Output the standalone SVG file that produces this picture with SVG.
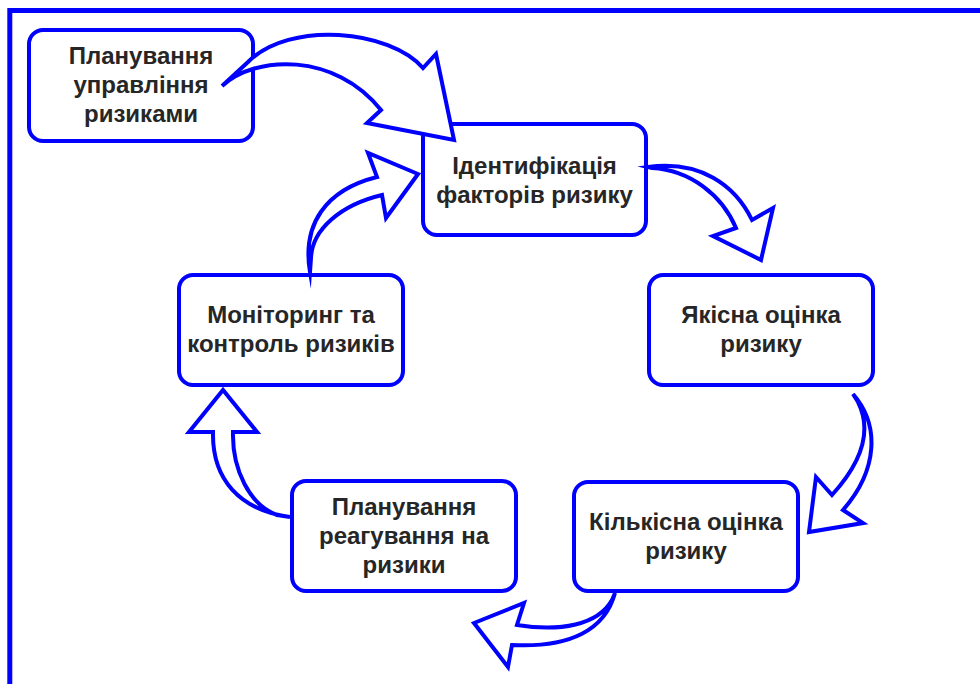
<svg xmlns="http://www.w3.org/2000/svg" width="980" height="684" viewBox="0 0 980 684">
<style>
.box{fill:#fff;stroke:#0000ff;stroke-width:4}
.arr{fill:#fff;stroke:#0000ff;stroke-width:4;stroke-linejoin:miter;stroke-miterlimit:10}
.t{font-family:"Liberation Sans",Arial,sans-serif;font-weight:bold;font-size:24px;fill:#262626;text-anchor:middle}
</style>
<rect width="980" height="684" fill="#fff"/>
<g id="frame" fill="none" stroke="#0000ff" stroke-width="5">
<path d="M980,10.5 H9.8 V684"/>
</g>
<g id="n1">
<rect class="box" x="29" y="30" width="224" height="111" rx="14"/>
<text class="t" x="141" y="64">Планування<tspan x="141" y="93">управління</tspan><tspan x="141" y="122">ризиками</tspan></text>
</g>
<g id="n2">
<rect class="box" x="423" y="124" width="223" height="111" rx="14"/>
<text class="t" x="534.5" y="173.5">Ідентифікація<tspan x="534.5" y="202.5">факторів ризику</tspan></text>
</g>
<g id="n3">
<rect class="box" x="649" y="275" width="224" height="110" rx="14"/>
<text class="t" x="761" y="323">Якісна оцінка<tspan x="761" y="352">ризику</tspan></text>
</g>
<g id="n4">
<rect class="box" x="574" y="482" width="224" height="109" rx="14"/>
<text class="t" x="686" y="530">Кількісна оцінка<tspan x="686" y="559">ризику</tspan></text>
</g>
<g id="n5">
<rect class="box" x="292" y="481" width="224" height="110" rx="14"/>
<text class="t" x="404" y="515">Планування<tspan x="404" y="544">реагування на</tspan><tspan x="404" y="573">ризики</tspan></text>
</g>
<g id="n6">
<rect class="box" x="179" y="275" width="224" height="110" rx="14"/>
<text class="t" x="291" y="323">Моніторинг та<tspan x="291" y="352">контроль ризиків</tspan></text>
</g>
<g id="connectors">
<path class="arr" d="M222,86 C255,55 335,52 381,110 L367,123 L454,140 L436,54 L423,68 C390,30 290,20 248,62 Z"/>
<path class="arr" d="M648,167 C700,160 735,185 752,220 L773,208 L761,260 L713,236 L736,228 C722,195 690,170 652,168 Z"/>
<path class="arr" d="M853,394 C880,425 878,470 843,510 L863,523 L809,532 L816,477 L832,495 C862,462 872,430 858,402 Z"/>
<path class="arr" d="M615,593 C605,630 570,648 512,645 L508,667 L474,623 L524,603 L517,625 C560,632 598,625 612,600 Z"/>
<path class="arr" d="M290,517 C240,510 212,480 213,432 L189,432 L223,390 L257,432 L233,432 C232,470 250,505 277,515 Z"/>
<path class="arr" d="M310,272 C302,225 325,190 377,177 L368,153 L418,174 L386,218 L382,195 C340,205 312,230 311,258 Z"/>
</g>
</svg>
